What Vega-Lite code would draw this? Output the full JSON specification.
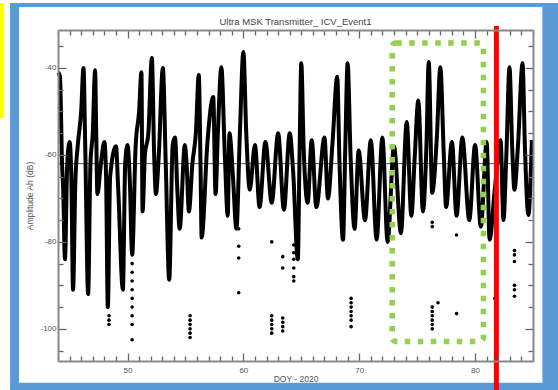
{
 "$schema": "https://vega.github.io/schema/vega-lite/v6.json",
 "width": 475, "height": 331,
 "autosize": {"type": "none"},
 "padding": {"left": 58, "top": 30, "right": 25, "bottom": 29},
 "background": "white",
 "config": {"view": {"stroke": null}, "font": "Liberation Sans"},
 "title": {"text": "Ultra MSK Transmitter_ ICV_Event1", "fontSize": 9.5, "fontWeight": "normal", "color": "#444", "font": "Liberation Sans", "offset": 0, "dy": 23, "zindex": 1},
 "datasets": {
  "frame": [
   {"x": 39.862, "x2": 40.638, "y": -25.05, "y2": -115},
   {"x": 39.862, "x2": 87.5, "y": -25.05, "y2": -25.97},
   {"x": 85.81, "x2": 87.5, "y": -25.05, "y2": -115},
   {"x": 39.862, "x2": 87.5, "y": -112.41, "y2": -115}
  ],
  "yellow": [{"x": 38.9, "x2": 39.345, "y": -25.05, "y2": -51.49}],
  "ref": [{"v": -62}],
  "trace": [
   {"d":44.02,"v":-41},{"d":44.17,"v":-42},{"d":44.35,"v":-62},{"d":44.45,"v":-68},{"d":44.6,"v":-84},{"d":44.8,"v":-62},{"d":45.0,"v":-57},{"d":45.15,"v":-65},{"d":45.3,"v":-91},{"d":45.5,"v":-66},{"d":45.7,"v":-58},{"d":46.0,"v":-50},{"d":46.2,"v":-40},{"d":46.35,"v":-58},{"d":46.6,"v":-92},{"d":46.8,"v":-62},{"d":47.0,"v":-55},{"d":47.2,"v":-40.5},{"d":47.3,"v":-55},{"d":47.4,"v":-69},{"d":47.7,"v":-62},{"d":48.0,"v":-57},{"d":48.15,"v":-65},{"d":48.3,"v":-95},{"d":48.5,"v":-65},{"d":49.0,"v":-58},{"d":49.2,"v":-68},{"d":49.6,"v":-91},{"d":49.8,"v":-62},{"d":50.0,"v":-57.7},{"d":50.2,"v":-66},{"d":50.4,"v":-83},{"d":50.7,"v":-58},{"d":51.0,"v":-50},{"d":51.2,"v":-41},{"d":51.3,"v":-73},{"d":51.5,"v":-60},{"d":51.8,"v":-55},{"d":52.1,"v":-37.7},{"d":52.3,"v":-60},{"d":52.45,"v":-69},{"d":52.7,"v":-60},{"d":53.05,"v":-40},{"d":53.3,"v":-62},{"d":53.6,"v":-88.7},{"d":53.9,"v":-57.7},{"d":54.1,"v":-56},{"d":54.3,"v":-68},{"d":54.5,"v":-77},{"d":54.95,"v":-57.7},{"d":55.1,"v":-62},{"d":55.3,"v":-73},{"d":55.6,"v":-62},{"d":55.9,"v":-55},{"d":56.15,"v":-41.6},{"d":56.3,"v":-62},{"d":56.4,"v":-79},{"d":56.9,"v":-57},{"d":57.4,"v":-46.7},{"d":57.6,"v":-69},{"d":57.8,"v":-55},{"d":58.1,"v":-39.8},{"d":58.4,"v":-60},{"d":58.65,"v":-74},{"d":58.8,"v":-55},{"d":59.1,"v":-65},{"d":59.4,"v":-77},{"d":59.7,"v":-55},{"d":60.0,"v":-36.3},{"d":60.25,"v":-55},{"d":60.55,"v":-68},{"d":61.0,"v":-57.7},{"d":61.4,"v":-72},{"d":61.9,"v":-57},{"d":62.45,"v":-71},{"d":63.0,"v":-55},{"d":63.5,"v":-72.6},{"d":64.0,"v":-55},{"d":64.3,"v":-64},{"d":64.7,"v":-84},{"d":64.85,"v":-60},{"d":65.0,"v":-38.9},{"d":65.2,"v":-58},{"d":65.55,"v":-71},{"d":65.9,"v":-56.6},{"d":66.3,"v":-72},{"d":67.0,"v":-56},{"d":67.3,"v":-70},{"d":67.7,"v":-57},{"d":68.1,"v":-42},{"d":68.3,"v":-62},{"d":68.6,"v":-79.5},{"d":68.8,"v":-58},{"d":69.0,"v":-38.9},{"d":69.25,"v":-60},{"d":69.6,"v":-77},{"d":69.95,"v":-59},{"d":70.5,"v":-75},{"d":71.0,"v":-56.6},{"d":71.5,"v":-79.5},{"d":72.0,"v":-56},{"d":72.45,"v":-80},{"d":73.0,"v":-58},{"d":73.6,"v":-78},{"d":74.1,"v":-52.4},{"d":74.5,"v":-74},{"d":74.8,"v":-60},{"d":75.1,"v":-47.5},{"d":75.5,"v":-73},{"d":75.8,"v":-58},{"d":76.0,"v":-38.6},{"d":76.3,"v":-68.7},{"d":76.7,"v":-56},{"d":77.0,"v":-39.8},{"d":77.3,"v":-60},{"d":77.5,"v":-72},{"d":78.0,"v":-57},{"d":78.4,"v":-74},{"d":78.9,"v":-56},{"d":79.5,"v":-75},{"d":80.0,"v":-57.7},{"d":80.5,"v":-76.5},{"d":81.0,"v":-57},{"d":81.25,"v":-79.5},{"d":81.7,"v":-68},{"d":82.2,"v":-56.6},{"d":82.45,"v":-75},{"d":82.7,"v":-60},{"d":82.97,"v":-39.8},{"d":83.2,"v":-58},{"d":83.4,"v":-68},{"d":83.7,"v":-58},{"d":84.1,"v":-38.9},{"d":84.3,"v":-58},{"d":84.6,"v":-73.8},{"d":84.9,"v":-56.6}
  ],
  "dots": [
   {"d":48.4,"v":-97},{"d":48.4,"v":-98},{"d":48.4,"v":-99},
   {"d":50.4,"v":-85},{"d":50.4,"v":-87},{"d":50.4,"v":-89},{"d":50.4,"v":-91},{"d":50.4,"v":-93},{"d":50.4,"v":-95},{"d":50.4,"v":-97},{"d":50.4,"v":-99},{"d":50.4,"v":-102.5},
   {"d":55.4,"v":-97},{"d":55.4,"v":-98},{"d":55.4,"v":-99},{"d":55.4,"v":-100},{"d":55.4,"v":-101},{"d":55.4,"v":-102},
   {"d":59.6,"v":-77},{"d":59.6,"v":-81},{"d":59.6,"v":-83.7},{"d":59.6,"v":-91.7},
   {"d":62.45,"v":-80},{"d":62.45,"v":-97},{"d":62.45,"v":-98},{"d":62.45,"v":-99},{"d":62.45,"v":-100},{"d":62.45,"v":-101},
   {"d":63.4,"v":-83.4},{"d":63.4,"v":-86},{"d":63.4,"v":-97.5},{"d":63.4,"v":-98.5},{"d":63.4,"v":-99.5},{"d":63.4,"v":-100.5},
   {"d":64.35,"v":-80.7},{"d":64.35,"v":-82.5},{"d":64.35,"v":-84},{"d":64.35,"v":-86},{"d":64.35,"v":-88},{"d":64.35,"v":-89},
   {"d":69.3,"v":-93},{"d":69.3,"v":-94},{"d":69.3,"v":-95},{"d":69.3,"v":-96},{"d":69.3,"v":-97},{"d":69.3,"v":-98},{"d":69.3,"v":-99.5},
   {"d":76.3,"v":-75.5},{"d":76.3,"v":-76.5},{"d":76.3,"v":-95},{"d":76.3,"v":-96},{"d":76.3,"v":-97},{"d":76.3,"v":-98},{"d":76.3,"v":-99},{"d":76.3,"v":-100},
   {"d":76.8,"v":-94},{"d":78.4,"v":-78.4},{"d":78.4,"v":-96.5},{"d":81.7,"v":-93},
   {"d":83.4,"v":-82},{"d":83.4,"v":-83},{"d":83.4,"v":-84.5},{"d":83.4,"v":-90},{"d":83.4,"v":-91},{"d":83.4,"v":-92.5}
  ],
  "box": [{"x": 72.85, "x2": 80.72, "y": -34.25, "y2": -102.9}],
  "red": [{"d": 81.84, "y": -30.34, "y2": -116}]
 },
 "layer": [
  {"data": {"name": "frame"}, "mark": {"type": "rect", "color": "#5b9bd5"},
   "encoding": {"x": {"field": "x", "type": "quantitative", "scale": {"domain": [44, 85], "nice": false, "zero": false}, "axis": null}, "x2": {"field": "x2"},
    "y": {"field": "y", "type": "quantitative", "scale": {"domain": [-107.4, -31.26], "nice": false, "zero": false}, "axis": null}, "y2": {"field": "y2"}}},
  {"data": {"name": "yellow"}, "mark": {"type": "rect", "color": "#ffff00"},
   "encoding": {"x": {"field": "x", "type": "quantitative", "scale": {"domain": [44, 85], "nice": false, "zero": false}, "axis": null}, "x2": {"field": "x2"},
    "y": {"field": "y", "type": "quantitative", "scale": {"domain": [-107.4, -31.26], "nice": false, "zero": false}, "axis": null}, "y2": {"field": "y2"}}},
  {"data": {"name": "ref"}, "mark": {"type": "rule", "color": "#555", "strokeWidth": 1},
   "encoding": {"y": {"field": "v", "type": "quantitative", "scale": {"domain": [-107.4, -31.26], "nice": false, "zero": false}, "axis": null}}},
  {"data": {"name": "trace"}, "mark": {"type": "line", "color": "#000", "strokeWidth": 4, "interpolate": "monotone"},
   "encoding": {
    "x": {"field": "d", "type": "quantitative", "scale": {"domain": [44, 85], "nice": false, "zero": false},
     "axis": {"orient": "bottom", "values": [44,45,46,47,48,49,50,51,52,53,54,55,56,57,58,59,60,61,62,63,64,65,66,67,68,69,70,71,72,73,74,75,76,77,78,79,80,81,82,83,84,85],
      "labelExpr": "datum.value % 10 === 0 ? '' + datum.value : ''", "tickSize": {"condition": {"test": "datum.value % 10 === 0", "value": -8}, "value": -5},
      "tickColor": "#666", "tickWidth": 1.3, "domainColor": "#888", "domainWidth": 2, "labelFontSize": 8, "labelColor": "#555", "labelPadding": 13, "labelFlush": false, "labelOverlap": false,
      "grid": false, "title": "DOY - 2020", "titleFontSize": 8.5, "titleFontWeight": "normal", "titleColor": "#555", "titlePadding": -3, "zindex": 1}},
    "y": {"field": "v", "type": "quantitative", "scale": {"domain": [-107.4, -31.26], "nice": false, "zero": false},
     "axis": {"orient": "left", "values": [-105,-100,-95,-90,-85,-80,-75,-70,-65,-60,-55,-50,-45,-40,-35],
      "labelExpr": "datum.value % 20 === 0 ? '' + datum.value : ''", "tickSize": {"condition": {"test": "datum.value % 20 === 0", "value": -8}, "value": -5},
      "tickColor": "#666", "tickWidth": 1.3, "domainColor": "#888", "domainWidth": 2, "labelFontSize": 8, "labelColor": "#555", "labelPadding": 10, "labelFlush": false, "labelOverlap": false,
      "grid": false, "title": "Amplitude Ah (dB)", "titleFontSize": 8.5, "titleFontWeight": "normal", "titleColor": "#555", "titlePadding": 5, "zindex": 1}}}},
  {"data": {"name": "dots"}, "mark": {"type": "circle", "color": "#000", "size": 13, "opacity": 1},
   "encoding": {
    "x": {"field": "d", "type": "quantitative", "scale": {"domain": [44, 85], "nice": false, "zero": false},
     "axis": {"orient": "top", "values": [44,45,46,47,48,49,50,51,52,53,54,55,56,57,58,59,60,61,62,63,64,65,66,67,68,69,70,71,72,73,74,75,76,77,78,79,80,81,82,83,84,85],
      "labels": false, "tickSize": {"condition": {"test": "datum.value % 10 === 0", "value": -8}, "value": -5},
      "tickColor": "#666", "tickWidth": 1.3, "domainColor": "#888", "domainWidth": 2, "grid": false, "title": null, "zindex": 1}},
    "y": {"field": "v", "type": "quantitative", "scale": {"domain": [-107.4, -31.26], "nice": false, "zero": false},
     "axis": {"orient": "right", "values": [-105,-100,-95,-90,-85,-80,-75,-70,-65,-60,-55,-50,-45,-40,-35],
      "labels": false, "tickSize": {"condition": {"test": "datum.value % 20 === 0", "value": -8}, "value": -5},
      "tickColor": "#666", "tickWidth": 1.3, "domainColor": "#888", "domainWidth": 2, "grid": false, "title": null, "zindex": 1}}}},
  {"data": {"name": "box"}, "mark": {"type": "rect", "fill": null, "filled": false, "stroke": "#92d050", "strokeWidth": 5.5, "strokeDash": [5.5, 7.5], "cornerRadius": 4},
   "encoding": {"x": {"field": "x", "type": "quantitative", "scale": {"domain": [44, 85], "nice": false, "zero": false}, "axis": null}, "x2": {"field": "x2"},
    "y": {"field": "y", "type": "quantitative", "scale": {"domain": [-107.4, -31.26], "nice": false, "zero": false}, "axis": null}, "y2": {"field": "y2"}}},
  {"data": {"name": "red"}, "mark": {"type": "rule", "color": "#ff0000", "strokeWidth": 5},
   "encoding": {"x": {"field": "d", "type": "quantitative", "scale": {"domain": [44, 85], "nice": false, "zero": false}, "axis": null},
    "y": {"field": "y", "type": "quantitative", "scale": {"domain": [-107.4, -31.26], "nice": false, "zero": false}, "axis": null}, "y2": {"field": "y2"}}}
 ],
 "resolve": {"axis": {"x": "independent", "y": "independent"}}
}
